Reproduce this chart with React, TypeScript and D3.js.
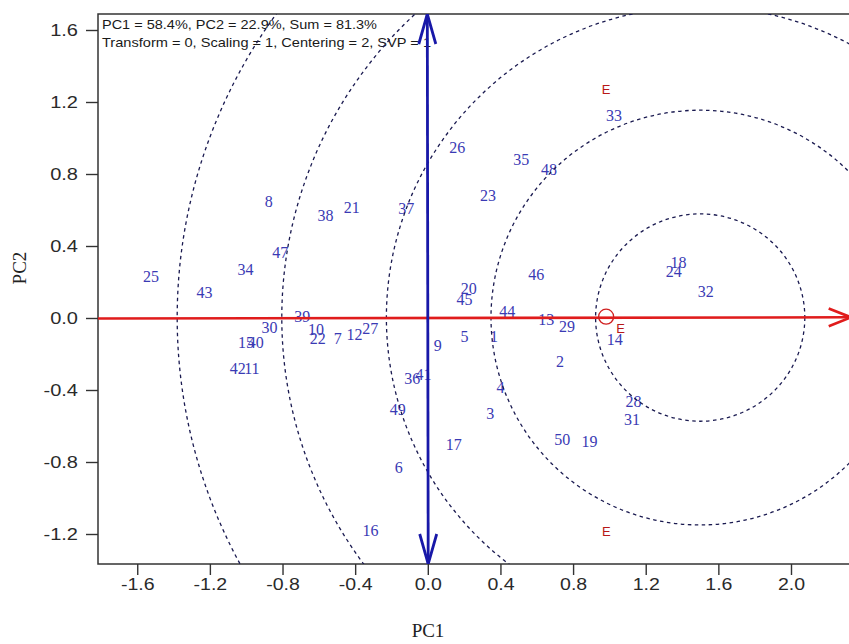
import React, { useEffect, useRef } from 'react';
import * as d3 from 'd3';

const genotypeLabels = ['1','2','3','4','5','6','7','8','9','10','11','12','13','14','15','16','17','18','19','20','21','22','23','24','25','26','27','28','29','30','31','32','33','34','35','36','37','38','39','40','41','42','43','44','45','46','47','48','49','50'];
const genotypePC1 = [0.364,0.728,0.344,0.401,0.202,-0.160,-0.496,-0.876,0.055,-0.615,-0.969,-0.404,0.652,1.029,-1.001,-0.316,0.143,1.381,0.891,0.226,-0.419,-0.606,0.331,1.354,-1.524,0.162,-0.317,1.133,0.766,-0.872,1.124,1.530,1.025,-1.004,0.515,-0.086,-0.119,-0.564,-0.692,-0.948,-0.024,-1.046,-1.230,0.437,0.202,0.597,-0.812,0.667,-0.165,0.741];
const genotypePC2 = [-0.104,-0.243,-0.529,-0.387,-0.104,-0.832,-0.113,0.646,-0.150,-0.061,-0.279,-0.091,-0.006,-0.117,-0.137,-1.178,-0.702,0.309,-0.683,0.165,0.615,-0.113,0.683,0.257,0.233,0.946,-0.057,-0.465,-0.044,-0.054,-0.563,0.150,1.124,0.272,0.883,-0.335,0.609,0.572,0.007,-0.137,-0.311,-0.279,0.143,0.039,0.106,0.243,0.365,0.828,-0.507,-0.672];

const envLabels = ['E','E','E'];
const envPC1 = [0.982, 1.062, 0.983];
const envPC2 = [1.267, -0.056, -1.187];

const averageEnv = [0.982, 0.0016];
const idealPoint = [1.5, 0.0024];
const circleRadii = [0.576, 1.152, 1.728, 2.304, 2.88];

const xTicks = [-1.6, -1.2, -0.8, -0.4, 0.0, 0.4, 0.8, 1.2, 1.6, 2.0];
const yTicks = [-1.2, -0.8, -0.4, 0.0, 0.4, 0.8, 1.2, 1.6];
const headerLines = ['PC1 = 58.4%, PC2 = 22.9%, Sum = 81.3%', 'Transform = 0, Scaling = 1, Centering = 2, SVP = 1'];
const xTitle = 'PC1';
const yTitle = 'PC2';

const W = 849;
const H = 644;
const plot = { left: 98, top: 14, right: 860, bottom: 564 };

const fmt = (v: number) => d3.format('.1f')(v).replace('\u2212', '-');

export default function App() {
  const ref = useRef<SVGSVGElement | null>(null);

  useEffect(() => {
    const svg = d3.select(ref.current);
    svg.selectAll('*').remove();

    const x = d3.scaleLinear().domain([0, 2]).range([427.8, 427.8 + 2 * 181.6]);
    const y = d3.scaleLinear().domain([0, 1.6]).range([318, 318 - 1.6 * 180]);
    const xMin = x.invert(plot.left);
    const yMax = y.invert(plot.top);
    const yMin = y.invert(plot.bottom);

    svg.append('defs').append('clipPath').attr('id', 'plotclip')
      .append('rect').attr('x', plot.left).attr('y', plot.top)
      .attr('width', plot.right - plot.left).attr('height', plot.bottom - plot.top);

    const stretch = (sel: d3.Selection<any, any, any, any>, k: number) => {
      sel.each(function () {
        const el = this as SVGTextElement;
        const len = el.getComputedTextLength();
        d3.select(el).attr('textLength', len * k).attr('lengthAdjust', 'spacingAndGlyphs');
      });
    };

    // axes
    const gx = svg.append('g').attr('transform', `translate(0,${plot.bottom})`)
      .call(d3.axisBottom(x).tickValues(xTicks).tickFormat(fmt as any).tickSize(11).tickPadding(4).tickSizeOuter(0));
    gx.select('.domain').remove();
    gx.selectAll('line').attr('stroke', '#333').attr('stroke-width', 1.4);
    const gxt = gx.selectAll('text').attr('font-family', '"Liberation Sans", Arial, sans-serif').attr('font-size', 16).attr('fill', '#2a2a2a');
    stretch(gxt, 1.22);

    const gy = svg.append('g').attr('transform', `translate(${plot.left},0)`)
      .call(d3.axisLeft(y).tickValues(yTicks).tickFormat(fmt as any).tickSize(12).tickPadding(8).tickSizeOuter(0));
    gy.select('.domain').remove();
    gy.selectAll('line').attr('stroke', '#333').attr('stroke-width', 1.4);
    const gyt = gy.selectAll('text').attr('font-family', '"Liberation Sans", Arial, sans-serif').attr('font-size', 16).attr('fill', '#2a2a2a');
    stretch(gyt, 1.25);

    // frame
    svg.append('rect').attr('x', plot.left).attr('y', plot.top)
      .attr('width', plot.right - plot.left).attr('height', plot.bottom - plot.top)
      .attr('fill', 'none').attr('stroke', '#333').attr('stroke-width', 1.5);

    // titles
    svg.append('text').attr('x', 428).attr('y', 637).attr('text-anchor', 'middle')
      .attr('font-family', '"Liberation Serif", "Times New Roman", serif').attr('font-size', 19).attr('fill', '#222').text(xTitle);
    svg.append('text').attr('transform', 'translate(26,268) rotate(-90)').attr('text-anchor', 'middle')
      .attr('font-family', '"Liberation Serif", "Times New Roman", serif').attr('font-size', 19).attr('fill', '#222').text(yTitle);

    const inner = svg.append('g').attr('clip-path', 'url(#plotclip)');

    // header
    headerLines.forEach((t, i) => {
      inner.append('text').attr('x', 102).attr('y', 29 + i * 17.5)
        .attr('font-family', '"Liberation Sans", Arial, sans-serif').attr('font-size', 12.8).attr('fill', '#1a1a1a')
        .attr('textLength', i === 0 ? 275 : 329).attr('lengthAdjust', 'spacingAndGlyphs')
        .text(t);
    });

    // genotype labels
    inner.selectAll('text.geno').data(genotypeLabels).enter().append('text')
      .attr('class', 'geno')
      .attr('x', (_d, i) => x(genotypePC1[i]))
      .attr('y', (_d, i) => y(genotypePC2[i]))
      .attr('dy', '0.35em')
      .attr('text-anchor', 'middle')
      .attr('font-family', '"Liberation Serif", "Times New Roman", serif')
      .attr('font-size', 16)
      .attr('fill', '#3a3ab4')
      .text(d => d);

    // environment labels
    inner.selectAll('text.env').data(envLabels).enter().append('text')
      .attr('class', 'env')
      .attr('x', (_d, i) => x(envPC1[i]))
      .attr('y', (_d, i) => y(envPC2[i]))
      .attr('dy', '0.35em')
      .attr('text-anchor', 'middle')
      .attr('font-family', '"Liberation Sans", Arial, sans-serif')
      .attr('font-size', 13)
      .attr('fill', '#b81818')
      .text(d => d);

    // concentric circles
    const sx = x(1) - x(0);
    const sy = y(0) - y(1);
    circleRadii.forEach(r => {
      inner.append('ellipse')
        .attr('cx', x(idealPoint[0])).attr('cy', y(idealPoint[1]))
        .attr('rx', r * sx).attr('ry', r * sy)
        .attr('fill', 'none').attr('stroke', '#1a1a50').attr('stroke-width', 1.3)
        .attr('stroke-dasharray', '3.5,3.5');
    });

    // AEA abscissa (red)
    const slope = averageEnv[1] / averageEnv[0];
    const tipX = x.invert(851);
    const redStart: [number, number] = [x(xMin), y(slope * xMin)];
    const redEnd: [number, number] = [x(tipX), y(slope * tipX)];
    inner.append('line')
      .attr('x1', redStart[0]).attr('y1', redStart[1])
      .attr('x2', redEnd[0]).attr('y2', redEnd[1])
      .attr('stroke', '#e01c1c').attr('stroke-width', 2.6);
    const ang = Math.atan2(redEnd[1] - redStart[1], redEnd[0] - redStart[0]);
    const headLen = 24;
    const headAng = 0.38;
    const redHead = d3.line()([
      [redEnd[0] - headLen * Math.cos(ang - headAng), redEnd[1] - headLen * Math.sin(ang - headAng)],
      redEnd,
      [redEnd[0] - headLen * Math.cos(ang + headAng), redEnd[1] - headLen * Math.sin(ang + headAng)],
    ]);
    svg.append('path').attr('d', redHead).attr('fill', 'none').attr('stroke', '#e01c1c').attr('stroke-width', 2.6);

    // AEA ordinate (blue), perpendicular through origin
    const px = -averageEnv[1] / averageEnv[0];
    const top: [number, number] = [x(px * yMax), y(yMax)];
    const bot: [number, number] = [x(px * yMin), y(yMin)];
    inner.append('line')
      .attr('x1', top[0]).attr('y1', top[1]).attr('x2', bot[0]).attr('y2', bot[1])
      .attr('stroke', '#1818a8').attr('stroke-width', 2.8);
    const bLen = 30;
    const bHalf = 8.5;
    const blueHeads = [
      [[top[0] - bHalf, top[1] + bLen], top, [top[0] + bHalf, top[1] + bLen]],
      [[bot[0] - bHalf, bot[1] - bLen], bot, [bot[0] + bHalf, bot[1] - bLen]],
    ] as [number, number][][];
    blueHeads.forEach(h => {
      inner.append('path').attr('d', d3.line()(h)).attr('fill', 'none')
        .attr('stroke', '#1818a8').attr('stroke-width', 2.8);
    });

    // average environment marker
    inner.append('circle')
      .attr('cx', x(averageEnv[0])).attr('cy', y(averageEnv[1]) - 1)
      .attr('r', 7.5).attr('fill', 'none').attr('stroke', '#d02020').attr('stroke-width', 1.3);
  }, []);

  return (
    <div style={{ position: 'absolute', left: 0, top: 0 }}>
      <svg ref={ref} width={W} height={H} style={{ display: 'block', background: '#fff' }} />
    </div>
  );
}
